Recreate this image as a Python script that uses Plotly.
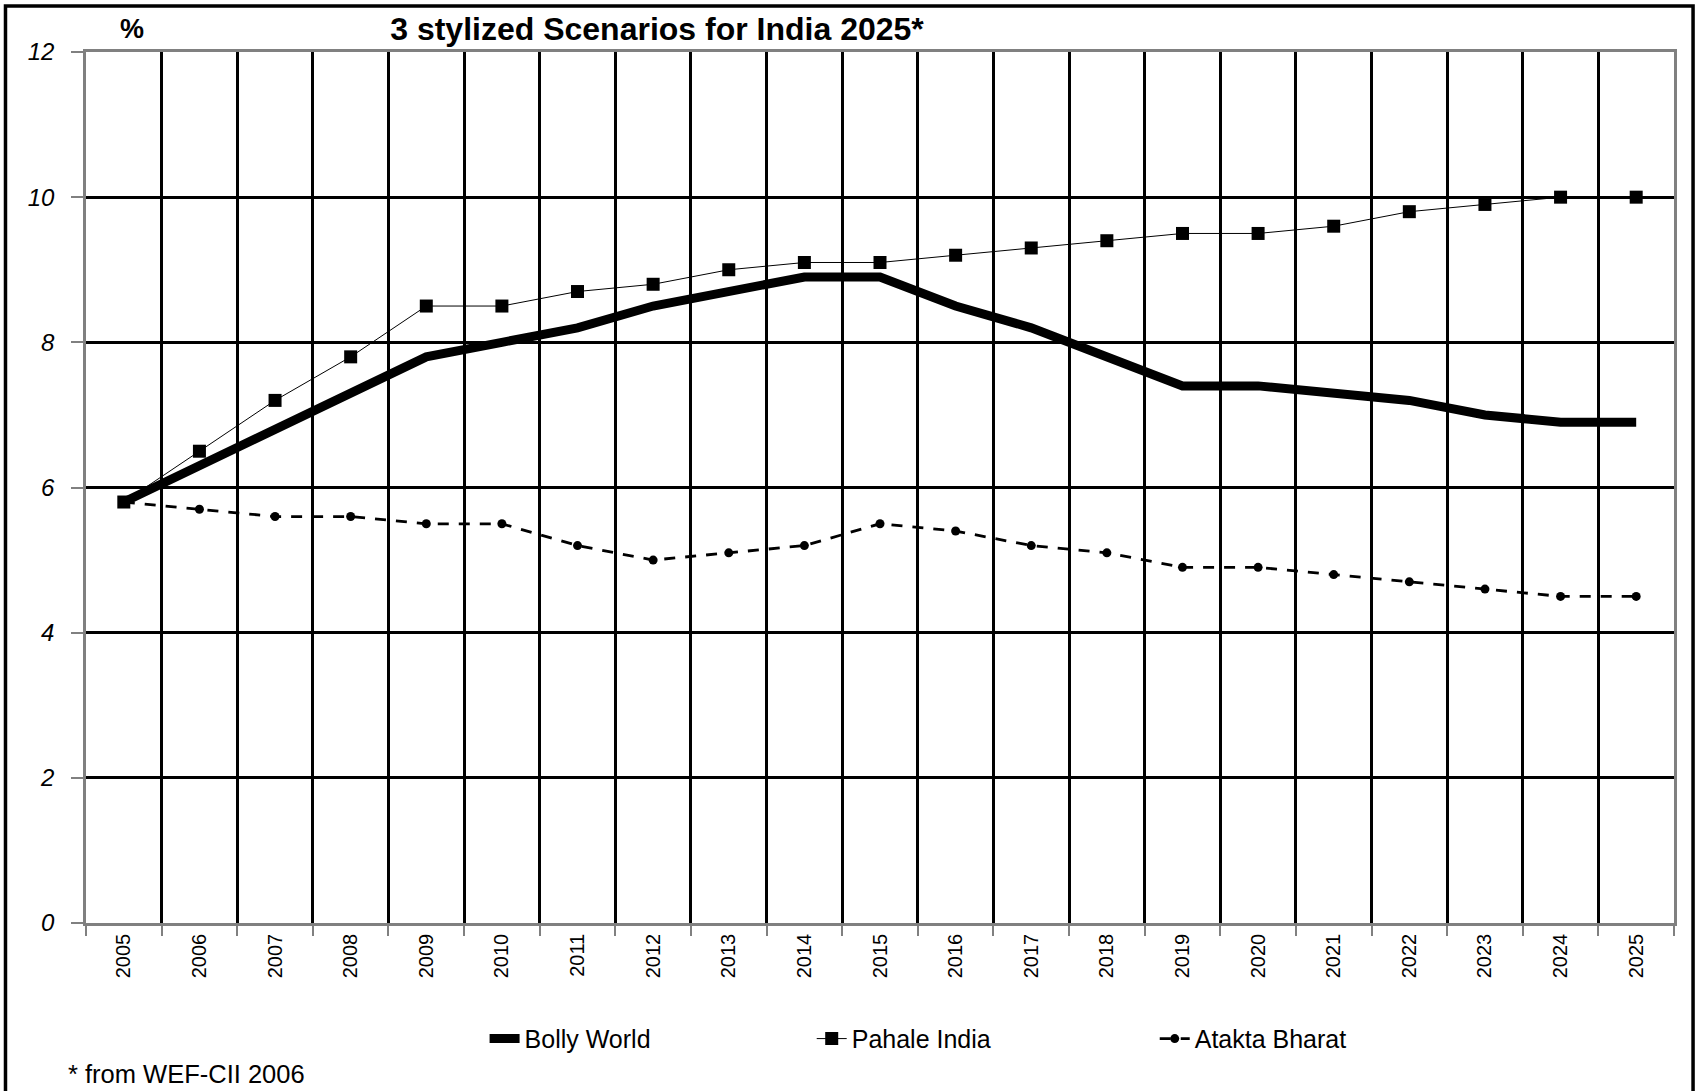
import plotly.graph_objects as go

# Growth scenarios, % per year
years = list(range(2005, 2026))
bolly_world = [5.8, 6.3, 6.8, 7.3, 7.8, 8.0, 8.2, 8.5, 8.7, 8.9, 8.9,
               8.5, 8.2, 7.8, 7.4, 7.4, 7.3, 7.2, 7.0, 6.9, 6.9]
pahale_india = [5.8, 6.5, 7.2, 7.8, 8.5, 8.5, 8.7, 8.8, 9.0, 9.1, 9.1,
                9.2, 9.3, 9.4, 9.5, 9.5, 9.6, 9.8, 9.9, 10.0, 10.0]
atakta_bharat = [5.8, 5.7, 5.6, 5.6, 5.5, 5.5, 5.2, 5.0, 5.1, 5.2, 5.5,
                 5.4, 5.2, 5.1, 4.9, 4.9, 4.8, 4.7, 4.6, 4.5, 4.5]
y_ticks = [0, 2, 4, 6, 8, 10, 12]

FONT = "Arial, Liberation Sans, sans-serif"

fig = go.Figure()
fig.add_trace(go.Scatter(
    x=years, y=bolly_world, name="Bolly World", mode="lines",
    line=dict(color="black", width=9), legend="legend",
))
fig.add_trace(go.Scatter(
    x=years, y=pahale_india, name="Pahale India", mode="lines+markers",
    line=dict(color="black", width=1),
    marker=dict(symbol="square", size=13, color="black"), legend="legend2",
))
fig.add_trace(go.Scatter(
    x=years, y=atakta_bharat, name="Atakta Bharat", mode="lines+markers",
    line=dict(color="black", width=2.8, dash="11px,10px"),
    marker=dict(symbol="circle", size=9, color="black"), legend="legend3",
))


def legend_box(x):
    # one legend per series, placed side by side under the axis labels
    return dict(
        orientation="h", x=x, xanchor="left", y=-0.133, yanchor="middle",
        font=dict(size=25, family=FONT, color="black"),
        bgcolor="rgba(0,0,0,0)",
    )


fig.update_layout(
    width=1696, height=1091,
    margin=dict(l=86, r=22, t=52, b=168),
    paper_bgcolor="white", plot_bgcolor="white",
    font=dict(family=FONT, color="black"),
    showlegend=True,
    title=dict(
        text="<b>3 stylized Scenarios for India 2025*</b>",
        x=657 / 1696, xanchor="center", y=1 - 29 / 1091, yanchor="middle",
        font=dict(size=32, family=FONT, color="black"),
    ),
    legend=legend_box(0.251),
    legend2=legend_box(0.457),
    legend3=legend_box(0.673),
    xaxis=dict(
        range=[2004.5, 2025.5], tickmode="array", tickvals=years,
        ticktext=[str(y) for y in years], tickangle=-90,
        tickfont=dict(size=20, family=FONT), ticks="", showgrid=False,
        zeroline=False, showline=True, linecolor="#808080", linewidth=2.5,
        mirror=True,
        minor=dict(tick0=2004.5, dtick=1, showgrid=True, gridcolor="black",
                   gridwidth=3.3, ticks="outside", ticklen=10,
                   tickcolor="#808080", tickwidth=1.5),
    ),
    yaxis=dict(
        range=[0, 12], tickmode="array", tickvals=y_ticks,
        tickfont=dict(size=24, family=FONT, style="italic"),
        ticks="outside", ticklen=12, tickcolor="#808080", tickwidth=1.5,
        ticklabelstandoff=12,
        showgrid=True, gridcolor="black", gridwidth=2.7, zeroline=False,
        showline=True, linecolor="#808080", linewidth=2.5, mirror=True,
    ),
    annotations=[
        dict(text="<b>%</b>", xref="paper", yref="paper", x=0.0287, y=1.0264,
             xanchor="center", yanchor="middle", showarrow=False,
             font=dict(size=27, family=FONT, color="black")),
        dict(text="* from WEF-CII 2006", xref="paper", yref="paper",
             x=-0.0123, y=-0.1728, xanchor="left", yanchor="middle",
             showarrow=False, font=dict(size=25.5, family=FONT, color="black")),
    ],
    shapes=[
        # outer frame around the chart (open at the bottom edge of the page)
        dict(type="rect", xref="paper", yref="paper",
             x0=-0.0507, x1=1.0120, y0=-0.25, y1=1.0528,
             line=dict(color="black", width=3.5), layer="above"),
    ],
)

fig.write_html("out.html")
